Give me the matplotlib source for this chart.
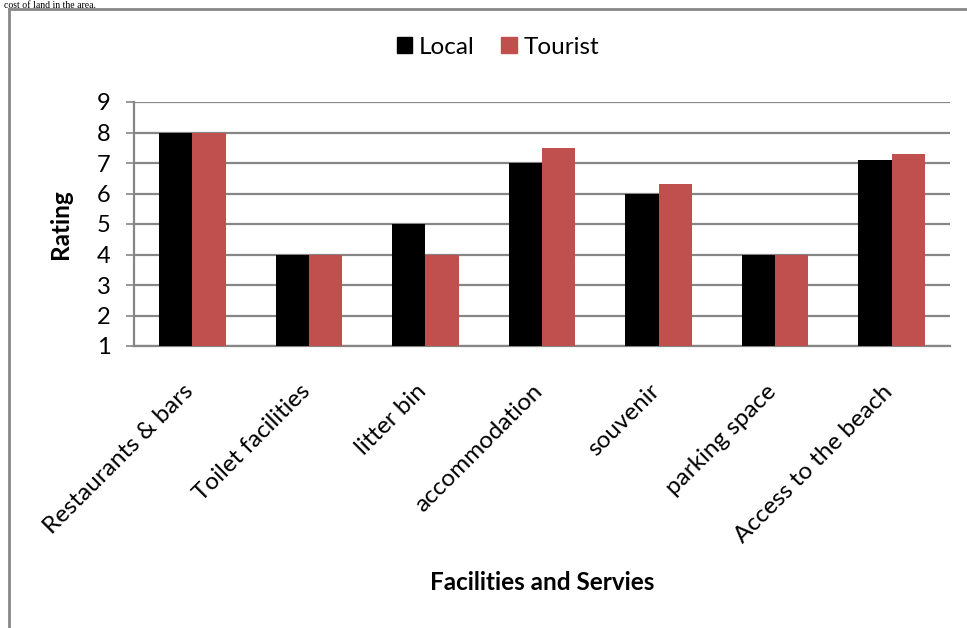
import matplotlib
matplotlib.use("Agg")
import matplotlib.pyplot as plt
import matplotlib.transforms as mtransforms
from matplotlib.lines import Line2D
from matplotlib.patches import Patch
import numpy as np

categories = ["Restaurants & bars", "Toilet facilities", "litter bin",
              "accommodation", "souvenir", "parking space", "Access to the beach"]
local = [8, 4, 5, 7, 6, 4, 7.1]
tourist = [8, 4, 4, 7.5, 6.3, 4, 7.3]
y_ticks = [1, 2, 3, 4, 5, 6, 7, 8, 9]
series_names = ["Local", "Tourist"]

BLACK = "#000000"
RED = "#C0504D"
GRID = "#868686"

plt.rcParams["font.family"] = ["Lato", "DejaVu Sans"]

W, H = 967, 628
fig = plt.figure(figsize=(W / 100, H / 100), dpi=100)

# plot area in pixel coordinates
left_px, right_px, top_px, bottom_px = 134, 950, 102, 346
ax = fig.add_axes([left_px / W, 1 - bottom_px / H,
                   (right_px - left_px) / W, (bottom_px - top_px) / H])

x = np.arange(len(categories))
bw = 1 / 3.5
ax.bar(x - bw / 2, local, width=bw, color=BLACK, zorder=3)
ax.bar(x + bw / 2, tourist, width=bw, color=RED, zorder=3)

ax.set_xlim(-0.5, len(categories) - 0.5)
ax.set_ylim(1, 9)
ax.set_yticks(y_ticks)
ax.set_yticklabels([str(v) for v in y_ticks], fontsize=17)
ax.yaxis.grid(True, color=GRID, linewidth=1.6, zorder=0)
ax.set_axisbelow(True)

for s in ("top", "right"):
    ax.spines[s].set_visible(False)
for s in ("left", "bottom"):
    ax.spines[s].set_color(GRID)
    ax.spines[s].set_linewidth(1.6)

ax.tick_params(axis="y", length=6, width=1.2, color=GRID, pad=11)
ax.tick_params(axis="x", length=0, pad=25)

ax.set_xticks(x)
ax.set_xticklabels(categories, fontsize=17.5, rotation=45, ha="right")
shift = mtransforms.ScaledTranslation(5 / 100, 0, fig.dpi_scale_trans)
for lbl in ax.get_xticklabels():
    lbl.set_transform(lbl.get_transform() + shift)

fig.text(61 / W, 1 - 224 / H, "Rating", fontsize=17.5, fontweight="bold",
         rotation=90, ha="center", va="center")
fig.text((left_px + right_px) / 2 / W, 1 - 583 / H, "Facilities and Servies",
         fontsize=17.5, fontweight="bold", ha="center", va="center")

handles = [Patch(color=BLACK), Patch(color=RED)]
fig.legend(handles, series_names, loc="center", bbox_to_anchor=(498 / W, 1 - 47 / H),
           ncol=2, frameon=False, fontsize=17.5, handlelength=0.62, handleheight=0.62,
           handletextpad=0.3, columnspacing=1.1)

# outer chart border (running off the page on the right and bottom)
fig.add_artist(Line2D([9 / W, 9 / W], [1 - 9 / H, 0], transform=fig.transFigure,
                      color="#888888", linewidth=2))
fig.add_artist(Line2D([9 / W, 1], [1 - 9 / H, 1 - 9 / H], transform=fig.transFigure,
                      color="#888888", linewidth=2))

# last line of the preceding paragraph above the chart
fig.text(4 / W, 1 - 1 / H, "cost of land in the area.", fontsize=7,
         family="Liberation Serif", ha="left", va="top")

fig.savefig("out.png", dpi=100)
